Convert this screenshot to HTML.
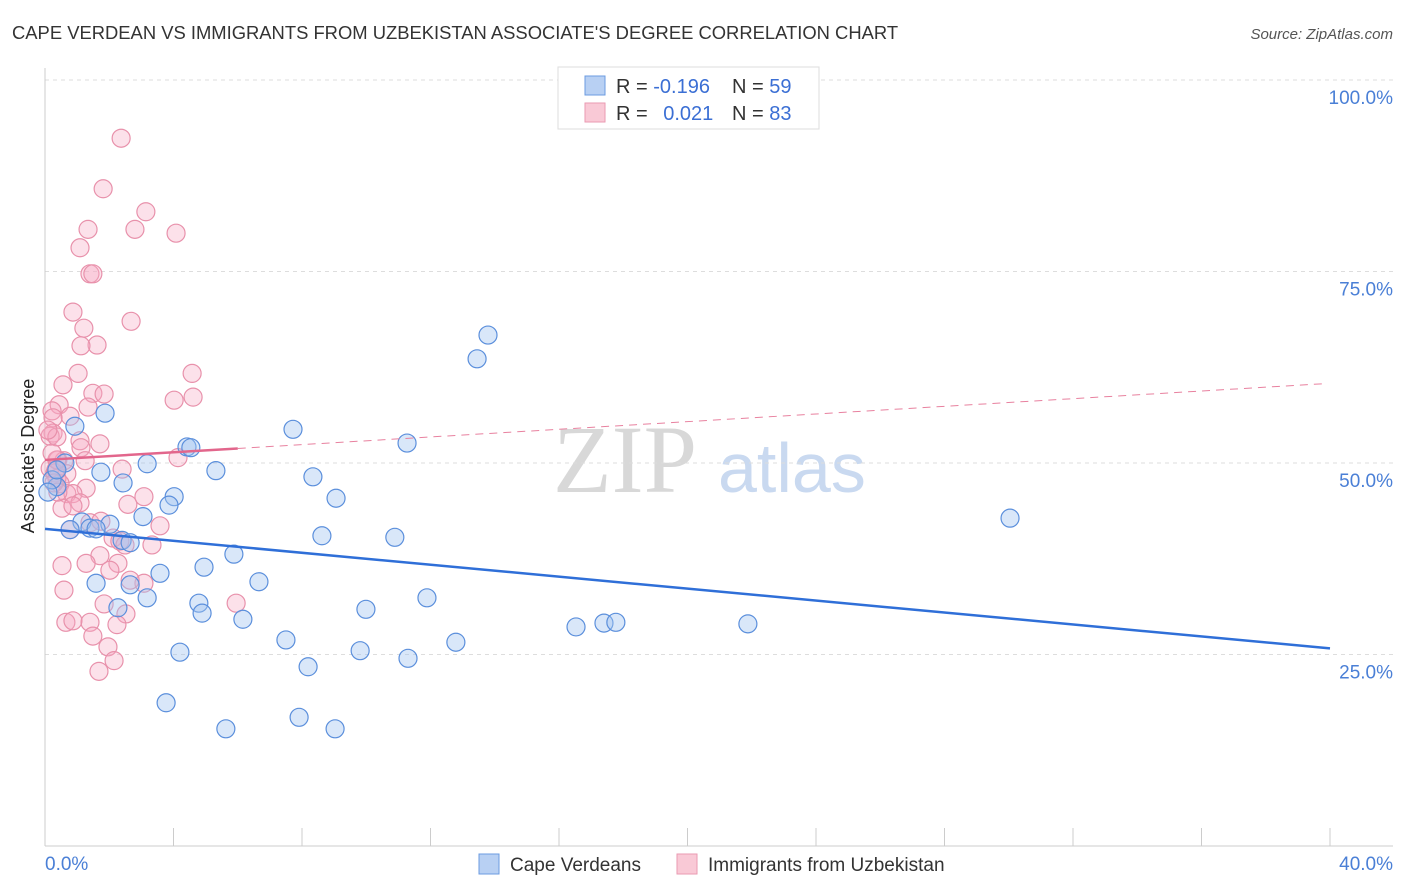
<!DOCTYPE html>
<html><head><meta charset="utf-8"><style>
body{margin:0;background:#fff;font-family:"Liberation Sans",sans-serif;}
#wrap{position:relative;width:1406px;height:892px;overflow:hidden;}
</style></head><body>
<div id="wrap">
<svg id="svg" width="1406" height="892" xmlns="http://www.w3.org/2000/svg" font-family="Liberation Sans, sans-serif">
<text x="12" y="39" font-size="18.4" fill="#333">CAPE VERDEAN VS IMMIGRANTS FROM UZBEKISTAN ASSOCIATE'S DEGREE CORRELATION CHART</text>
<text x="1393" y="39" font-size="15" fill="#555" font-style="italic" text-anchor="end">Source: ZipAtlas.com</text>
<text x="0" y="0" font-size="18" fill="#222" transform="translate(34,456) rotate(-90)" text-anchor="middle">Associate's Degree</text>
<g>
<text x="553" y="492" font-size="96" fill="#d8d8d8" font-family="Liberation Serif, serif">ZIP</text>
<text x="718" y="492" font-size="70" fill="#c9d9f0">atlas</text>
</g>
<g id="grid"></g><g id="pts"></g><g id="trend"></g>
<g>
<rect x="558" y="67" width="261" height="62" fill="#fff" stroke="#ddd"/>
<rect x="585" y="76" width="20" height="19" fill="#b8d0f3" stroke="#6b9be0"/>
<rect x="585" y="103" width="20" height="19" fill="#f9c9d6" stroke="#ea9ab2"/>
<text x="616" y="93" font-size="20" fill="#333">R = <tspan fill="#3b6fd4">-0.196</tspan></text>
<text x="732" y="93" font-size="20" fill="#333">N = <tspan fill="#3b6fd4">59</tspan></text>
<text x="616" y="120" font-size="20" fill="#333">R = <tspan fill="#3b6fd4" dx="10">0.021</tspan></text>
<text x="732" y="120" font-size="20" fill="#333">N = <tspan fill="#3b6fd4">83</tspan></text>
</g>
<g>
<rect x="479" y="854" width="20" height="20" fill="#b8d0f3" stroke="#6b9be0"/>
<text x="510" y="871" font-size="19" fill="#333">Cape Verdeans</text>
<rect x="677" y="854" width="20" height="20" fill="#f9c9d6" stroke="#ea9ab2"/>
<text x="708" y="871" font-size="19" fill="#333">Immigrants from Uzbekistan</text>
</g>
</svg>
</div>
<script>
const yTicks=[25,50,75,100];
const yTickLabels=["25.0%","50.0%","75.0%","100.0%"];
const xTickVals=[0,4,8,12,16,20,24,28,32,36,40];
const xEndLabels=["0.0%","40.0%"];
const blueX=[13.79,13.45,1.87,7.72,11.27,0.93,4.42,4.54,3.18,0.62,1.74,5.32,8.34,2.43,9.06,4.02,3.86,3.05,30.04,1.15,2.02,1.40,1.59,8.62,10.89,2.40,2.65,5.88,4.95,3.58,6.66,1.59,2.65,3.18,4.79,4.89,9.99,11.89,6.16,2.27,16.53,17.40,17.77,21.88,7.50,12.79,4.20,9.81,11.30,8.19,3.77,5.63,7.91,9.03,0.37,0.22,0.37,0.09,0.78];
const blueY=[66.7,63.6,56.5,54.4,52.6,54.8,52.1,52.0,49.9,50.0,48.8,49.0,48.2,47.4,45.4,45.6,44.5,43.0,42.8,42.3,42.0,41.5,41.4,40.5,40.3,39.9,39.6,38.1,36.4,35.6,34.5,34.3,34.1,32.4,31.7,30.4,30.9,32.4,29.6,31.1,28.6,29.1,29.2,29.0,26.9,26.6,25.3,25.5,24.5,23.4,18.7,15.3,16.8,15.3,46.9,47.8,49.1,46.2,41.3];
const pinkX=[2.37,1.81,3.14,1.34,2.80,4.08,1.09,1.40,1.49,0.87,2.68,1.21,1.62,1.12,4.58,1.03,0.56,1.49,1.84,4.61,4.02,0.44,1.34,0.22,0.78,0.25,0.25,0.16,0.37,1.09,1.71,1.12,4.14,0.40,0.59,1.25,0.16,0.31,0.68,2.40,0.37,0.47,1.28,0.68,0.87,3.08,1.09,2.58,0.53,0.87,3.58,0.78,1.40,1.74,2.12,2.33,2.49,3.33,1.71,1.28,2.27,0.53,2.02,3.08,2.65,0.59,1.84,5.95,2.52,1.40,0.65,0.87,2.24,1.49,1.96,2.15,1.68,0.37,0.22,0.09,0.34,0.28,0.40];
const pinkY=[92.4,85.8,82.8,80.5,80.5,80.0,78.1,74.7,74.7,69.7,68.5,67.6,65.4,65.3,61.7,61.7,60.2,59.1,59.0,58.6,58.2,57.6,57.3,56.8,56.1,55.9,53.9,53.5,53.4,52.9,52.5,52.0,50.7,50.4,50.3,50.3,49.3,48.7,48.6,49.2,48.0,47.3,46.7,46.0,46.0,45.6,44.8,44.6,44.1,44.4,41.8,41.3,42.2,42.4,40.2,39.8,39.3,39.3,37.9,36.9,36.9,36.6,36.0,34.3,34.7,33.4,31.6,31.7,30.3,29.2,29.2,29.4,28.9,27.4,26.0,24.2,22.8,50.4,51.3,54.3,49.1,47.4,46.2];
const blueTrend=[41.4,25.8];
const pinkTrend=[50.4,60.4];
const pinkSolidEnd=[6];

const NS="http://www.w3.org/2000/svg";
const X0=45,X1=1330,Y0=846,PPY=7.66;
function sx(v){return X0+(v/40)*(X1-X0);}
function sy(v){return Y0-v*PPY;}
function mk(tag,attrs,parent){const e=document.createElementNS(NS,tag);for(const k in attrs)e.setAttribute(k,attrs[k]);parent.appendChild(e);return e;}
const grid=document.getElementById('grid'),pts=document.getElementById('pts'),trend=document.getElementById('trend');
yTicks.forEach((t,i)=>{
  const l=mk('line',{x1:X0,x2:1393,y1:sy(t),y2:sy(t),stroke:'#ddd','stroke-dasharray':'4,4'},grid);
  
  
  const tx=mk('text',{x:1393,y:sy(t)+24,'font-size':19,fill:'#4a7fd6','text-anchor':'end'},grid);
  tx.textContent=yTickLabels[i];
  
  
});
const ax=mk('line',{x1:X0,x2:1393,y1:Y0,y2:Y0,stroke:'#ccc'},grid);


const ay=mk('line',{x1:X0,x2:X0,y1:68,y2:Y0,stroke:'#ccc'},grid);


xTickVals.forEach(v=>{
  const t=mk('line',{x1:sx(v),x2:sx(v),y1:828,y2:Y0,stroke:'#ccc'},grid);
  
  
});
const xl0=mk('text',{x:45,y:870,'font-size':19,fill:'#4a7fd6'},grid);xl0.textContent=xEndLabels[0];


const xl1=mk('text',{x:1393,y:870,'font-size':19,fill:'#4a7fd6','text-anchor':'end'},grid);xl1.textContent=xEndLabels[1];


pinkX.forEach((x,i)=>{
  const c=mk('circle',{cx:sx(x),cy:sy(pinkY[i]),r:9,fill:'rgba(245,170,195,0.35)',stroke:'#e891ab','stroke-width':1.2},pts);
  
  
});
blueX.forEach((x,i)=>{
  const c=mk('circle',{cx:sx(x),cy:sy(blueY[i]),r:9,fill:'rgba(160,195,240,0.4)',stroke:'#5b8fdc','stroke-width':1.2},pts);
  
  
});
const bt=mk('line',{x1:sx(0),y1:sy(blueTrend[0]),x2:sx(40),y2:sy(blueTrend[1]),stroke:'#2f6fd8','stroke-width':2.5},trend);


function py(x){return pinkTrend[0]+(pinkTrend[1]-pinkTrend[0])*x/40;}
const pd=mk('line',{x1:sx(pinkSolidEnd[0]),y1:sy(py(pinkSolidEnd[0])),x2:sx(39.85),y2:sy(py(39.85)),stroke:'#e8819f','stroke-width':1,'stroke-dasharray':'8,6'},trend);


const ps=mk('line',{x1:sx(0),y1:sy(py(0)),x2:sx(pinkSolidEnd[0]),y2:sy(py(pinkSolidEnd[0])),stroke:'#e2668c','stroke-width':2.5},trend);


</script>
</body></html>
